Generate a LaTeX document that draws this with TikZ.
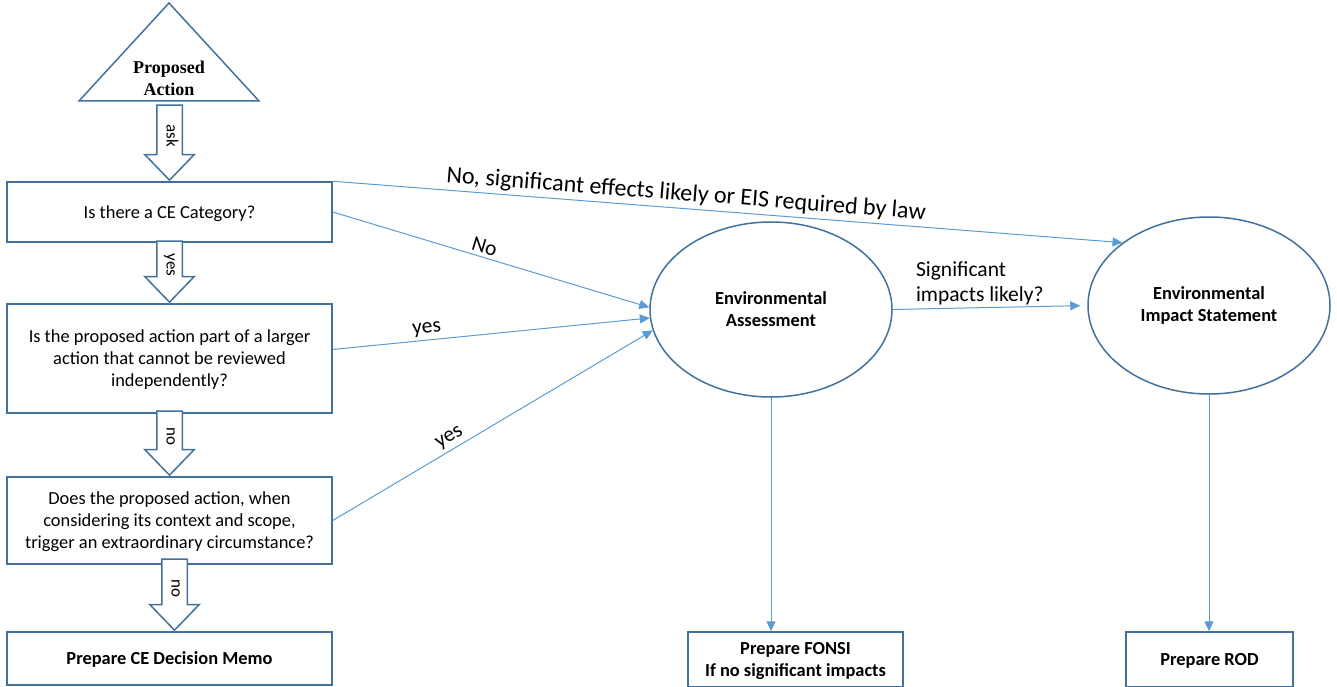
\documentclass[tikz,border=0pt]{standalone}
\usepackage{fontspec}
\setmainfont{Carlito}
\newfontfamily\timesfont{Liberation Serif}
\usepackage{tikz}
\usetikzlibrary{calc}
\usetikzlibrary{arrows.meta}
\usetikzlibrary{shapes.arrows}
\usetikzlibrary{shapes.geometric}
\usetikzlibrary{positioning}
\definecolor{boxblue}{RGB}{65,113,156}
\definecolor{lineblue}{RGB}{91,155,213}
\newcommand{\qfont}{\fontsize{18.4}{22}\selectfont}
\newcommand{\lblfont}{\fontsize{21.5}{25}\selectfont}
\newcommand{\arrfont}{\fontsize{17}{20}\selectfont}
\tikzset{qbox/.style={rectangle,draw=boxblue,line width=1.5pt,minimum width=325pt,align=center,font=\qfont,inner sep=2pt,text depth=0pt}}
\tikzset{ebox/.style={ellipse,draw=boxblue,line width=1.5pt,minimum width=242pt,align=center,font=\qfont\bfseries}}
\tikzset{bigarrow/.style={single arrow,draw=boxblue,fill=white,line width=1.5pt,rotate=-90,single arrow head extend=12pt,single arrow tip angle=88,text height=8pt,text depth=2pt,inner ysep=7pt,inner xsep=2pt,font=\arrfont}}
\tikzset{conn/.style={draw=lineblue,line width=1pt,-{Triangle[length=10pt,width=9pt]}}}
\tikzset{lbl/.style={font=\lblfont,text=black}}

\begin{document}
\begin{tikzpicture}[x=1pt,y=-1pt]
\useasboundingbox (0,0) rectangle (1337,687);

% proposed action triangle
\draw[boxblue, line width=1.5pt, line join=miter] (169,3) -- (259,101) -- (79,101) -- cycle;
\node[align=center, font=\timesfont\bfseries\fontsize{18}{22}\selectfont] (PA) at (169,78) {Proposed\\Action};

% left column of questions
\node[qbox, minimum height=60pt] (q1) at (169.5,212) {Is there a CE Category?};
\node[qbox, minimum height=109pt] (q2) at (169.5,358.5) {Is the proposed action part of a larger\\action that cannot be reviewed\\independently?};
\node[qbox, minimum height=87pt] (q3) at (169.5,520.5) {Does the proposed action, when\\considering its context and scope,\\trigger an extraordinary circumstance?};
\node[qbox, minimum height=53pt, font=\qfont\bfseries] (memo) at (169.5,658.5) {Prepare CE Decision Memo};

\node[bigarrow, minimum height=75pt, anchor=tip] (ask) at (q1.north) {ask};
\node[bigarrow, minimum height=61pt, anchor=tip] (yes) at (q2.north) {yes};
\node[bigarrow, minimum height=64pt, anchor=tip] (no1) at (q3.north) {no};
\node[bigarrow, minimum height=71pt, anchor=tip] (no2) at ($(memo.north) + (5,0)$) {no};

\node[ebox, minimum height=175pt] (EA) at (771,309.5) {Environmental\\Assessment};
\node[ebox, minimum height=177pt] (EIS) at (1209,305.5) {Environmental\\Impact Statement};

\node[qbox, minimum width=215pt, minimum height=55pt, font=\qfont\bfseries] (fonsi) at (795.5,659.5) {Prepare FONSI\\If no significant impacts};
\node[qbox, minimum width=167pt, minimum height=55pt, font=\qfont\bfseries] (rod) at (1209.5,659.5) {Prepare ROD};

\draw[conn] (q1.north east) -- node[lbl, pos=0.446, above, sloped, font=\fontsize{24}{28}\selectfont] {No, significant effects likely or EIS required by law} (EIS.144);
\draw[conn] (q1.east) -- node[lbl, pos=0.47, above, sloped] {No} (EA.179);
\draw[conn] ($(q2.east) + (0,-9)$) -- node[lbl, pos=0.3, above, sloped] {yes} (EA.184);
\draw[conn] (q3.east) -- node[lbl, pos=0.383, above, sloped] {yes} (EA.190);
\draw[conn, shorten >=7pt] (EA.east) -- node[lbl, pos=0.1, above right, align=left] {Significant\\impacts likely?} (EIS.west);
\draw[conn] (EA) -- (EA |- fonsi.north);
\draw[conn] (EIS) -- (EIS |- rod.north);

\end{tikzpicture}
\end{document}
